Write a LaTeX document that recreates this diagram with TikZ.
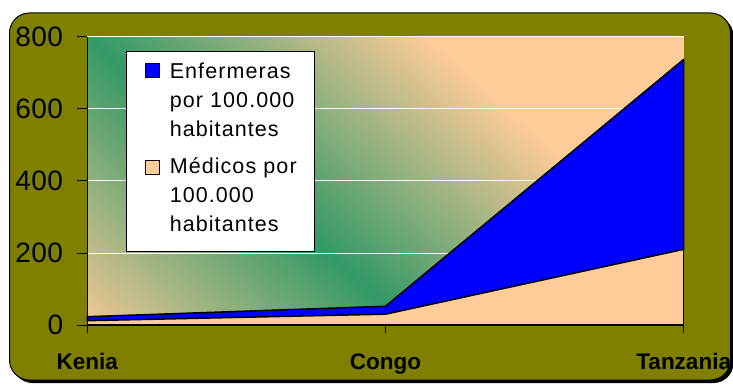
\documentclass[tikz,border=0pt]{standalone}
\usepackage{fontspec}
\setmainfont{Liberation Sans}
\newfontfamily\legendfont[LetterSpace=5]{Liberation Sans}
\newfontfamily\tickfont[LetterSpace=2]{Liberation Sans}
\usetikzlibrary{positioning}
\definecolor{olivebg}{HTML}{808000}
\definecolor{peach}{HTML}{FFCC99}
\definecolor{seagreen}{HTML}{339966}
\definecolor{nurseblue}{HTML}{0000FF}

\begin{document}
\begin{tikzpicture}[x=1pt,y=1pt,
  ylab/.style={anchor=east,inner sep=0pt,font=\tickfont\fontsize{28}{32}\selectfont},
  xlab/.style={anchor=base,inner sep=0pt,font=\bfseries\fontsize{22.5}{26}\selectfont},
  markbox/.style={draw=black,line width=0.8pt,minimum size=14pt,inner sep=0pt},
  entry/.style={anchor=base west,inner sep=0pt,text width=145pt,align=left,
    font=\legendfont\fontsize{21.5}{29}\selectfont}]
\useasboundingbox (0,0) rectangle (733,383);
    % Frame
    \fill[black,rounded corners=20pt] (12.5,0) rectangle (733.5,367);
    \filldraw[fill=olivebg,draw=black,line width=1pt,rounded corners=20pt] (9.5,3) rectangle (730.5,370);
    % Plot area background
    \fill[peach] (87.3,58) rectangle (683.7,346.3);
    \begin{scope}
      \clip (87.3,58) rectangle (683.7,346.3);
      \shade[transform canvas={shift={(87.3,346.3)},rotate=-42},
        top color=peach,bottom color=peach,middle color=seagreen] (-700,-230) rectangle (900,230);
    \end{scope}
    \begin{scope}[shift={(87.3,58)},x=298.2pt,y=0.3604pt]
      % Grid
      \foreach \v in {200,400,600,800}
        \draw[white,line width=0.8pt] (0,\v) -- (2,\v);
      % Series
      \fill[peach] (0,0) -- (0,12) -- (1,30) -- (2,210) -- (2,0) -- cycle;
      \filldraw[fill=nurseblue,draw=black,line width=1.5pt,line join=round]
        (0,12) -- (1,30) -- (2,210) -- (2,737) -- (1,52) -- (0,23) -- cycle;
      \draw[line width=1.5pt] (2,0) -- (2,210);
      % Axis
      \draw[line width=0.8pt] (0,0) -- (0,800);
      \draw[line width=1.5pt] (0,0) -- (2,0);
      \foreach \v in {0,200,...,800} {
        \draw[line width=0.8pt] (0,\v) -- ++(-10pt,0);
        \node[ylab] (y\v) at ([xshift=-24pt]0,\v) {\v};
      }
      \foreach \c/\name in {0/Kenia,1/Congo,2/Tanzania} {
        \draw[line width=0.8pt] (\c,0) -- ++(0,-8pt);
        \node[xlab] (x\c) at ([yshift=-44.7pt]\c,0) {\name};
      }
    \end{scope}
    % Legend
    \node[draw=black,fill=white,line width=0.8pt,minimum width=188.3pt,minimum height=200pt,
      inner sep=0pt,anchor=north west] (legend) at (125.7,332) {};
    \node[markbox,fill=nurseblue] (mkN) at (152.2,312.2) {};
    \node[entry] (txN) at ([xshift=10pt]mkN.south east) {Enfermeras\\por 100.000\\habitantes};
    \node[markbox,fill=peach] (mkM) at (152.2,215.3) {};
    \node[entry] (txM) at ([xshift=10pt,yshift=1.5pt]mkM.south east) {Médicos por\\100.000\\habitantes};
\end{tikzpicture}
\end{document}
